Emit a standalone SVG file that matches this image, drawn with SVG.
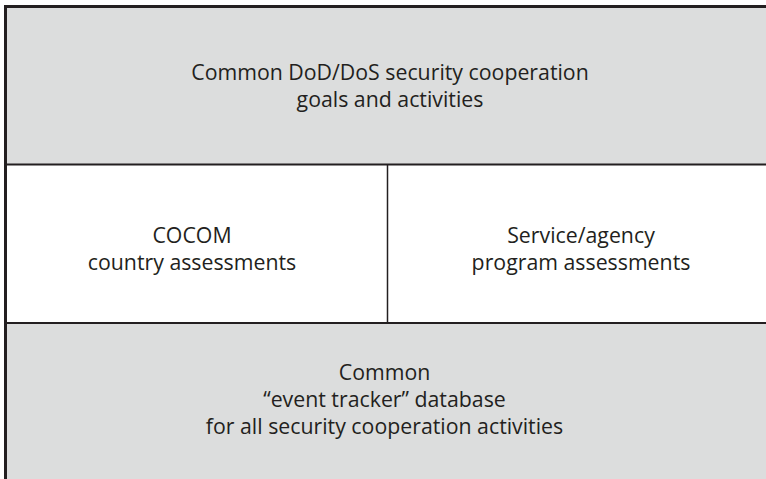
<svg xmlns="http://www.w3.org/2000/svg" width="766" height="479" viewBox="0 0 766 479">
<style>
.g{fill:#dcdddd}
.w{fill:#ffffff}
.ln{stroke:#231f20;fill:none}
text{font-family:"Open Sans","Noto Sans","Liberation Sans",sans-serif;font-size:21.3px;fill:#231f20;text-anchor:middle}
</style>
<rect x="0" y="0" width="766" height="479" fill="#ffffff"/>
<g id="top">
<rect class="g" x="5" y="6" width="761" height="158"/>
<text x="390" y="80">Common DoD/DoS security cooperation</text>
<text x="390" y="107">goals and activities</text>
</g>
<g id="cocom">
<rect class="w" x="5" y="164" width="382" height="159"/>
<text x="192" y="243">COCOM</text>
<text x="192" y="270">country assessments</text>
</g>
<g id="service">
<rect class="w" x="387" y="164" width="379" height="159"/>
<text x="581" y="243">Service/agency</text>
<text x="581" y="270">program assessments</text>
</g>
<g id="bottom">
<rect class="g" x="5" y="323" width="761" height="156"/>
<text x="384.5" y="380">Common</text>
<text x="384.5" y="407">“event tracker” database</text>
<text x="384.5" y="434">for all security cooperation activities</text>
</g>
<g id="connectors">
<line class="ln" x1="5.5" y1="6.5" x2="766" y2="6.5" stroke-width="3"/>
<line class="ln" x1="5.5" y1="5" x2="5.5" y2="479" stroke-width="3"/>
<line class="ln" x1="5" y1="164.5" x2="766" y2="164.5" stroke-width="2"/>
<line class="ln" x1="5" y1="323" x2="766" y2="323" stroke-width="2"/>
<line class="ln" x1="387.5" y1="164" x2="387.5" y2="323" stroke-width="1.5"/>
</g>
</svg>
